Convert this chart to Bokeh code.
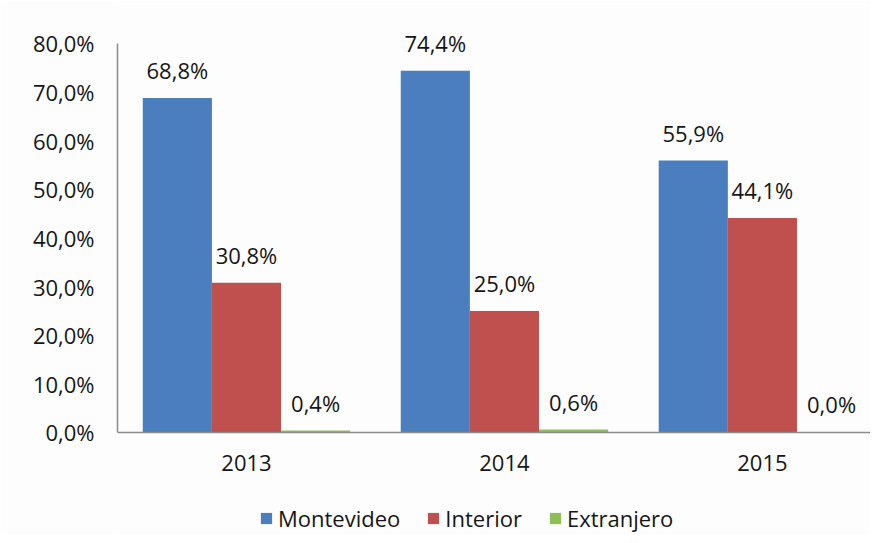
from bokeh.plotting import figure
from bokeh.models import ColumnDataSource, Range1d, FixedTicker, Legend, LegendItem, Span
from bokeh.core.properties import value
from bokeh.embed import file_html
from bokeh.resources import INLINE

years = ["2013", "2014", "2015"]
series = ["Montevideo", "Interior", "Extranjero"]
montevideo = [68.8, 74.4, 55.9]
interior = [30.8, 25.0, 44.1]
extranjero = [0.4, 0.6, 0.0]
y_ticks = [0, 10, 20, 30, 40, 50, 60, 70, 80]
y_tick_labels = ["0,0%", "10,0%", "20,0%", "30,0%", "40,0%", "50,0%", "60,0%", "70,0%", "80,0%"]

colors = ["#4a7ebf", "#c0504d", "#8dbf55"]
offsets = [-0.268, 0.0, 0.268]
bar_w = 0.268
FONT = "Open Sans"
FS = "22px"
TXT = "#161616"
AXIS = "#8a8a8a"

p = figure(width=870, height=535, output_backend="svg", toolbar_location=None,
           x_range=Range1d(-0.5, 2.419), y_range=Range1d(-21.18, 88.0),
           min_border_left=117, min_border_right=0, min_border_top=4, min_border_bottom=0,
           background_fill_color="#fdfdfd", border_fill_color="#fdfdfd")
p.outline_line_color = None
p.xgrid.visible = False
p.ygrid.visible = False
p.xaxis.visible = False

items = []
for vals, name, col, off in zip([montevideo, interior, extranjero], series, colors, offsets):
    xs = [i + off for i in range(len(years))]
    labels = [f"{v:.1f}%".replace(".", ",") for v in vals]
    src = ColumnDataSource(dict(x=xs, top=vals, lab=labels))
    r = p.vbar(x="x", top="top", width=bar_w, bottom=0, source=src,
               fill_color=col, line_color=None)
    p.text(x="x", y="top", text="lab", source=src, text_align="center",
           text_baseline="bottom", y_offset=-13, text_font=value(FONT),
           text_font_size=FS, text_color=TXT)
    items.append(LegendItem(label=name, renderers=[r]))

# category axis: baseline and year labels
p.add_layout(Span(location=0, dimension="width", line_color=AXIS, line_width=1.5))
ysrc = ColumnDataSource(dict(x=list(range(len(years))), y=[0] * len(years), t=years))
p.text(x="x", y="y", text="t", source=ysrc, text_align="center", text_baseline="top",
       y_offset=23, text_font=value(FONT), text_font_size=FS, text_color=TXT)

p.yaxis.ticker = FixedTicker(ticks=y_ticks)
p.yaxis.major_label_overrides = {t: l for t, l in zip(y_ticks, y_tick_labels)}
p.yaxis.bounds = (0, 80)
p.yaxis.major_tick_line_color = None
p.yaxis.minor_tick_line_color = None
p.yaxis.major_tick_out = 0
p.yaxis.major_tick_in = 0
p.yaxis.axis_line_color = AXIS
p.yaxis.axis_line_width = 1.5
p.yaxis.major_label_text_font = FONT
p.yaxis.major_label_text_font_size = FS
p.yaxis.major_label_text_color = TXT
p.yaxis.major_label_standoff = 23

legend = Legend(items=items, orientation="horizontal", location=(142, 2),
                label_text_font=FONT, label_text_font_size=FS, label_text_color=TXT,
                glyph_width=14, glyph_height=14, label_standoff=5, spacing=26,
                padding=2, margin=0,
                border_line_color=None, background_fill_alpha=0)
p.add_layout(legend, "center")

open("out.html", "w").write(file_html(p, INLINE))
